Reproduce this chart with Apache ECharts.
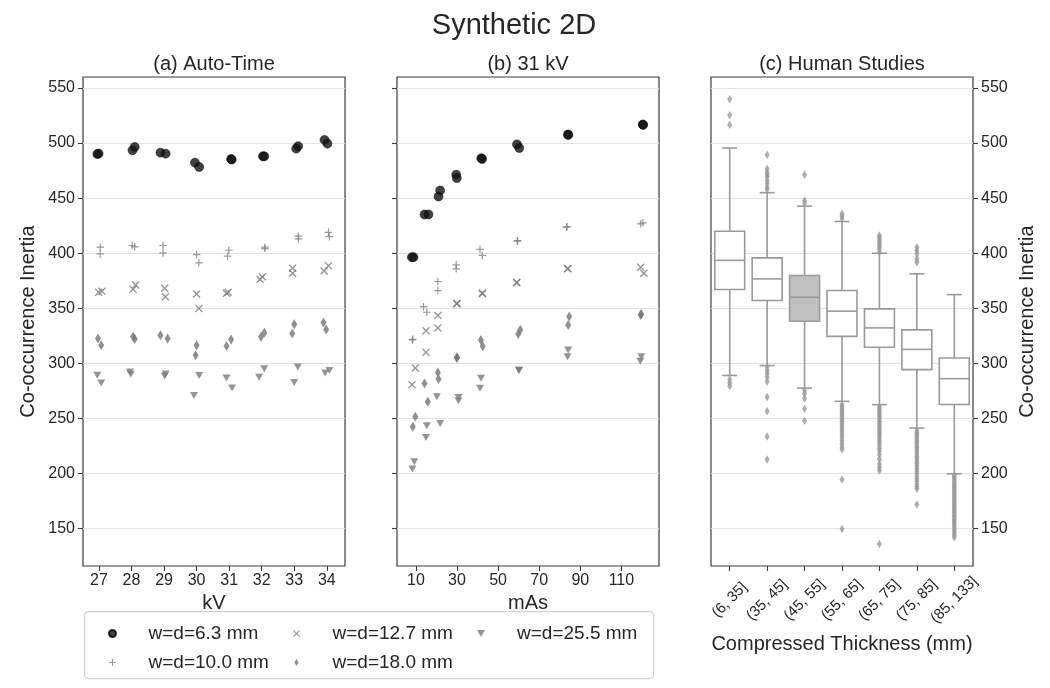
<!DOCTYPE html>
<html><head><meta charset="utf-8">
<script src="https://cdn.jsdelivr.net/npm/echarts@6/dist/echarts.min.js"></script>
<style>html,body{margin:0;padding:0;background:#fff}#c{width:1050px;height:688px}</style>
</head><body><div id="c"></div>
<script>
// ---------------- data ----------------
const yTicks = [150, 200, 250, 300, 350, 400, 450, 500, 550];
const kvTicks = [27, 28, 29, 30, 31, 32, 33, 34];
const masTicks = [10, 30, 50, 70, 90, 110];
const thicknessCats = ['(6, 35]', '(35, 45]', '(45, 55]', '(55, 65]', '(65, 75]', '(75, 85]', '(85, 133]'];
const seriesNames = ['w=d=6.3 mm', 'w=d=10.0 mm', 'w=d=12.7 mm', 'w=d=18.0 mm', 'w=d=25.5 mm'];

// (a) Auto-Time : [kV, inertia]
const autoTime63 = [[26.95,490],[26.99,490.5],[28.03,493.5],[28.1,496.5],[28.89,491.3],[29.05,490.4],[29.95,482.2],[30.08,478.3],[31.06,485.5],[31.08,485],[32.04,488],[32.08,488],[33.06,495],[33.12,497.2],[33.93,502.9],[34.02,499.5]];
const autoTime100 = [[27.04,405.5],[27.04,399.4],[28.02,407],[28.1,405.8],[28.97,407],[28.97,400.3],[30.0,398.8],[30.07,391.2],[30.99,402.7],[30.95,397.3],[32.1,404.2],[32.1,405.5],[33.13,415.5],[33.13,413],[34.05,419],[34.08,415]];
const autoTime127 = [[26.99,364.5],[27.09,365.4],[28.05,367.2],[28.13,371.1],[29.02,368.1],[29.04,360.5],[30.0,362.9],[30.07,349.9],[30.92,363.6],[30.97,364.5],[31.95,376.3],[32.02,378.7],[32.95,386.3],[32.95,381.8],[33.92,383.9],[34.05,388.7]];
const autoTime180 = [[26.97,322.6],[27.07,316.5],[28.05,324.1],[28.1,322],[28.89,325.6],[29.11,322.6],[30.0,316.5],[29.97,307.4],[30.92,315.8],[31.06,321.7],[31.98,324.1],[32.08,327.7],[32.94,327.1],[33.0,335.6],[33.9,337.2],[33.98,330.8]];
const autoTime255 = [[26.95,289.2],[27.07,282.2],[27.95,292.2],[27.98,290.1],[29.02,288.5],[29.05,290.3],[30.08,288.9],[29.92,270.9],[30.92,286.7],[31.09,277.6],[31.92,287.3],[32.08,295.2],[33.0,282.7],[33.11,296.7],[33.95,291.2],[34.08,293.6]];

// (b) 31 kV : [mAs, inertia]
const kv31_63 = [[8.06,396.4],[8.83,396.4],[14.2,435.2],[16.1,435.2],[21.0,451.5],[21.8,457],[29.6,471.3],[29.9,468.2],[41.8,486.3],[42.2,485.5],[59.2,498.8],[60.3,495.5],[84.0,507.8],[84.2,507.4],[120.4,516.9],[120.6,516.5]];
const kv31_100 = [[8.3,321.3],[8.5,321.8],[13.7,351.5],[15.3,346.4],[20.7,374.3],[20.7,366.1],[29.6,389.5],[29.6,385.8],[41.2,403.4],[42.3,398],[59.3,410.9],[59.5,411.4],[83.3,423.6],[83.5,424],[119.4,426.7],[120.5,427.6]];
const kv31_127 = [[8.1,280.6],[9.7,295.8],[14.9,329.7],[14.9,310],[20.7,343.4],[20.7,332.2],[29.9,354],[30.0,354.6],[42.3,363.1],[42.4,363.9],[59.0,373.1],[59.1,373.6],[83.8,385.8],[83.9,386.2],[119.4,387.3],[120.9,381.8]];
const kv31_180 = [[8.5,242.5],[9.7,251.5],[14.2,281.8],[15.8,265.2],[20.7,291.8],[21.0,285.8],[29.9,304.9],[30.0,305.6],[41.6,321.3],[42.5,315.5],[59.8,326.7],[60.8,330.4],[84.1,334.9],[84.6,342.5],[119.4,344],[119.6,344.8]];
const kv31_255 = [[8.3,204],[9.2,210.6],[14.9,232.7],[15.3,243.4],[20.2,269.7],[21.8,245.5],[30.7,269.1],[30.7,266.1],[41.2,277.3],[41.7,286.4],[60.1,293.4],[60.2,294],[83.8,306.1],[84.1,312.2],[119.2,301.8],[119.7,306.1]];

// (c) Human Studies : [lower whisker, Q1, median, Q3, upper whisker]
const boxStats = [
  [289, 367, 393.5, 420, 495.5],
  [298, 357, 376.7, 395.8, 455],
  [277.5, 338.2, 360, 379.7, 442.7],
  [265.5, 324.5, 347.4, 366.1, 428.8],
  [262.5, 314.6, 332.2, 349.5, 400],
  [241.2, 294.3, 312.7, 330.4, 381.3],
  [199.7, 262.7, 286.1, 304.8, 362.4]
];
const outliers = [
  [539.7, 525.2, 516.7, 285.5, 282.5, 279.4],
  [489.5, 476.7, 473.6, 471.3, 469.1, 466.1, 463.1, 460, 457.9, 296.6, 293.6, 290.6, 287.5, 283.6, 269.4, 256.4, 233.6, 212.7],
  [471.3, 447.9, 445.5, 275.5, 272.5, 268, 258.8, 247.8],
  [435.8, 433.5, 431.3, 262.4, 260.8, 258.9, 257.1, 255.0, 253.2, 251.0, 248.9, 247.2, 245.0, 242.6, 240.3, 237.9, 235.2, 232.6, 229.8, 227.0, 224.1, 221.8, 194.5, 149.7],
  [416.1, 414.2, 412.0, 410.1, 408.2, 406.0, 403.9, 400.9, 260.3, 258.6, 256.9, 255.0, 253.1, 251.2, 249.4, 247.3, 245.2, 243.4, 241.3, 239.2, 237.1, 235.0, 232.8, 230.4, 228.1, 225.7, 223.0, 220.4, 217.1, 213.0, 208.6, 205.4, 202.7, 136.0],
  [405.5, 402.5, 399.5, 395.0, 391.8, 239.1, 237.3, 235.4, 233.5, 231.6, 229.6, 227.8, 225.7, 223.6, 221.8, 219.7, 217.5, 215.4, 213.3, 211.2, 209.0, 206.8, 204.5, 202.3, 200.1, 197.6, 195.2, 192.9, 190.3, 188.0, 186.1, 171.8],
  [198.2, 196.5, 194.7, 192.8, 191.0, 189.1, 187.2, 185.4, 183.5, 181.6, 179.6, 177.8, 175.9, 173.9, 172.0, 170.1, 168.2, 166.2, 164.3, 162.4, 160.4, 158.5, 156.6, 154.6, 152.7, 150.6, 148.5, 146.2, 144.1, 142.0]
];
const highlightedBox = 2;

// ---------------- styling ----------------
const FONT = '"Liberation Sans", Arial, Helvetica, sans-serif';
const TXT = '#262626';
const FRAME = '#3a3a3a';
const GRIDC = '#e2e2e2';
const SYM = {
  circle: 'circle',
  plus: 'path://M4.2,0H5.8V4.2H10V5.8H5.8V10H4.2V5.8H0V4.2H4.2Z',
  cross: 'path://M0,1.2L1.2,0L5,3.8L8.8,0L10,1.2L6.2,5L10,8.8L8.8,10L5,6.2L1.2,10L0,8.8L3.8,5Z',
  diamond: 'path://M3,0L6,5L3,10L0,5Z',
  tri: 'path://M0,0L10,0L5,8.7Z'
};
const markerStyles = [
  {symbol: SYM.circle, symbolSize: 9, itemStyle: {color: '#111', borderColor: '#000', borderWidth: 0.6}},
  {symbol: SYM.plus, symbolSize: 7.5, itemStyle: {color: '#7f7f7f'}},
  {symbol: SYM.cross, symbolSize: 8, itemStyle: {color: '#7a7a7a'}},
  {symbol: SYM.diamond, symbolSize: [6, 10], itemStyle: {color: '#747474'}},
  {symbol: SYM.tri, symbolSize: [8, 7], itemStyle: {color: '#7a7a7a'}}
];
const autoSets = [autoTime63, autoTime100, autoTime127, autoTime180, autoTime255];
const kvSets = [kv31_63, kv31_100, kv31_127, kv31_180, kv31_255];

const grids = [
  {left: 83, top: 77, width: 262, height: 489},
  {left: 397, top: 77, width: 262, height: 489},
  {left: 711, top: 77, width: 262, height: 489}
].map(g => Object.assign({show: true, borderColor: FRAME, borderWidth: 1.2, backgroundColor: '#fff'}, g));

const tickStyle = {show: true, length: 5, lineStyle: {color: FRAME, width: 1.1}};
const lblStyle = {color: TXT, fontSize: 16, fontFamily: FONT};
const nameStyle = {color: TXT, fontSize: 20, fontFamily: FONT};

function yAx(i, opts) {
  return Object.assign({
    gridIndex: i, type: 'value', min: 116, max: 560, splitNumber: 9,
    axisLine: {show: false},
    axisTick: Object.assign({customValues: yTicks}, tickStyle),
    axisLabel: Object.assign({customValues: yTicks, margin: 8}, lblStyle),
    splitLine: {show: true, lineStyle: {color: GRIDC, width: 1.2}},
    nameTextStyle: nameStyle
  }, opts);
}

const series = [];
seriesNames.forEach((nm, k) => {
  series.push(Object.assign({type: 'scatter', name: nm, xAxisIndex: 0, yAxisIndex: 0, data: autoSets[k], z: 5 - k}, markerStyles[k]));
  series.push(Object.assign({type: 'scatter', name: nm, xAxisIndex: 1, yAxisIndex: 1, data: kvSets[k], z: 5 - k}, markerStyles[k]));
});

series.push({
  type: 'custom', name: 'boxes', xAxisIndex: 2, yAxisIndex: 2, z: 2,
  encode: {x: 0, y: [1, 2, 3, 4, 5]},
  data: boxStats.map((s, i) => [i].concat(s)),
  renderItem: function (params, api) {
    const i = api.value(0);
    const pLo = api.coord([i, api.value(1)]);
    const pQ1 = api.coord([i, api.value(2)]);
    const pMed = api.coord([i, api.value(3)]);
    const pQ3 = api.coord([i, api.value(4)]);
    const pHi = api.coord([i, api.value(5)]);
    const band = api.size([1, 0])[0];
    const bw = band * 0.8, cw = bw / 2;
    const x = pMed[0];
    const ls = {stroke: '#9a9a9a', lineWidth: 1.6};
    const fill = i === highlightedBox ? '#c0c0c0' : '#fff';
    return {type: 'group', children: [
      {type: 'line', shape: {x1: x, y1: pLo[1], x2: x, y2: pQ1[1]}, style: ls},
      {type: 'line', shape: {x1: x, y1: pQ3[1], x2: x, y2: pHi[1]}, style: ls},
      {type: 'line', shape: {x1: x - cw / 2, y1: pLo[1], x2: x + cw / 2, y2: pLo[1]}, style: ls},
      {type: 'line', shape: {x1: x - cw / 2, y1: pHi[1], x2: x + cw / 2, y2: pHi[1]}, style: ls},
      {type: 'rect', shape: {x: x - bw / 2, y: pQ3[1], width: bw, height: pQ1[1] - pQ3[1]}, style: {fill: fill, stroke: '#9a9a9a', lineWidth: 1.6}},
      {type: 'line', shape: {x1: x - bw / 2, y1: pMed[1], x2: x + bw / 2, y2: pMed[1]}, style: ls}
    ]};
  }
});
const outlierData = [];
outliers.forEach((arr, i) => arr.forEach(v => outlierData.push([i, v])));
series.push({
  type: 'scatter', name: 'outliers', xAxisIndex: 2, yAxisIndex: 2, z: 3,
  symbol: SYM.diamond, symbolSize: [5, 8.5], itemStyle: {color: '#9a9a9a'},
  data: outlierData
});

const legendBase = {
  orient: 'vertical', top: 619, itemWidth: 62, itemHeight: 7, itemGap: 10,
  textStyle: {color: TXT, fontSize: 19, fontFamily: FONT}, selectedMode: false
};

const option = {
  animation: false,
  backgroundColor: '#fff',
  grid: grids,
  xAxis: [
    {gridIndex: 0, type: 'value', min: 26.51, max: 34.56, name: 'kV', nameLocation: 'middle', nameGap: 27, nameTextStyle: nameStyle,
      axisLine: {show: false}, splitLine: {show: false},
      axisTick: Object.assign({customValues: kvTicks}, tickStyle), axisLabel: Object.assign({customValues: kvTicks, margin: 7}, lblStyle)},
    {gridIndex: 1, type: 'value', min: 0.8, max: 128.3, name: 'mAs', nameLocation: 'middle', nameGap: 27, nameTextStyle: nameStyle,
      axisLine: {show: false}, splitLine: {show: false},
      axisTick: Object.assign({customValues: masTicks}, tickStyle), axisLabel: Object.assign({customValues: masTicks, margin: 7}, lblStyle)},
    {gridIndex: 2, type: 'category', data: thicknessCats, boundaryGap: true, name: 'Compressed Thickness (mm)', nameLocation: 'middle', nameGap: 68, nameTextStyle: nameStyle,
      axisLine: {show: false}, splitLine: {show: false},
      axisTick: Object.assign({alignWithLabel: true}, tickStyle),
      axisLabel: Object.assign({}, lblStyle, {fontSize: 15, rotate: 45, margin: 34, interval: 0, align: 'center', verticalAlign: 'middle'})}
  ],
  yAxis: [
    yAx(0, {name: 'Co-occurrence Inertia', nameLocation: 'middle', nameGap: 45, nameRotate: 90}),
    yAx(1, {axisLabel: {show: false}}),
    yAx(2, {position: 'right', name: 'Co-occurrence Inertia', nameLocation: 'middle', nameGap: 44, nameRotate: 90})
  ],
  legend: [
    Object.assign({left: 103, data: [seriesNames[0], seriesNames[1]]}, legendBase),
    Object.assign({left: 288, data: [seriesNames[2], seriesNames[3]]}, legendBase),
    Object.assign({left: 472, data: [seriesNames[4]]}, legendBase)
  ],
  graphic: [
    {type: 'rect', left: 84, top: 611, z: -1, shape: {width: 569, height: 67, r: 4}, style: {fill: '#fff', stroke: '#d0d0d0', lineWidth: 1.2}},
    {type: 'text', x: 514, y: 26, style: {text: 'Synthetic 2D', font: '29px ' + FONT, fill: TXT, align: 'center', verticalAlign: 'middle', textAlign: 'center', textVerticalAlign: 'middle'}},
    {type: 'text', x: 214, y: 64, style: {text: '(a) Auto-Time', font: '20px ' + FONT, fill: TXT, align: 'center', verticalAlign: 'middle', textAlign: 'center', textVerticalAlign: 'middle'}},
    {type: 'text', x: 528, y: 64, style: {text: '(b) 31 kV', font: '20px ' + FONT, fill: TXT, align: 'center', verticalAlign: 'middle', textAlign: 'center', textVerticalAlign: 'middle'}},
    {type: 'text', x: 842, y: 64, style: {text: '(c) Human Studies', font: '20px ' + FONT, fill: TXT, align: 'center', verticalAlign: 'middle', textAlign: 'center', textVerticalAlign: 'middle'}}
  ],
  series: series
};

const chart = echarts.init(document.getElementById('c'), null, {renderer: 'canvas'});
chart.setOption(option);
</script>
</body></html>
